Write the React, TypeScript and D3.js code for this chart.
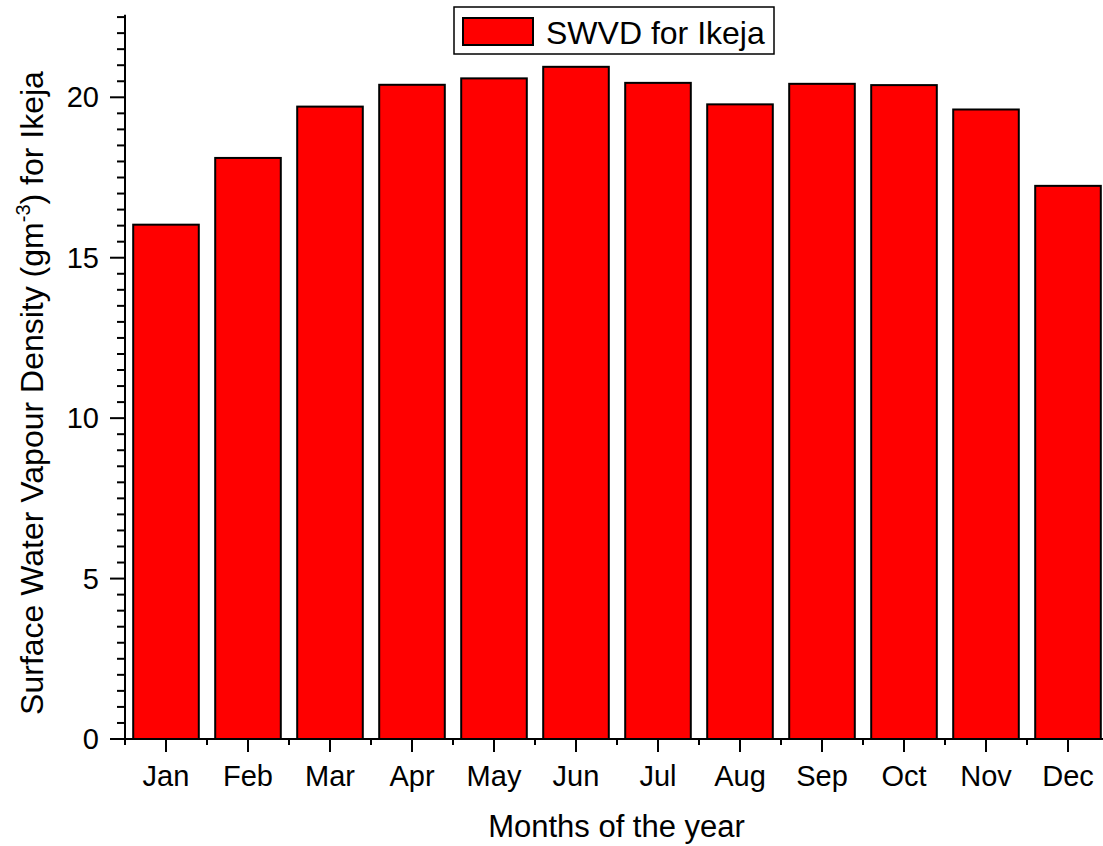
import React from "react";
import * as d3 from "d3";

const months = ["Jan", "Feb", "Mar", "Apr", "May", "Jun", "Jul", "Aug", "Sep", "Oct", "Nov", "Dec"];
const swvd = [16.03, 18.11, 19.71, 20.39, 20.59, 20.95, 20.45, 19.78, 20.42, 20.38, 19.62, 17.24];
const yMajorTicks = [0, 5, 10, 15, 20];
const legendLabel = "SWVD for Ikeja";

const W = 1103;
const H = 846;
const FONT = "'Liberation Sans', Arial, sans-serif";

export default function App() {
  const x0 = 125;
  const yBase = 739;
  const x = d3
    .scaleBand<string>()
    .domain(months)
    .range([x0, x0 + 12 * 82])
    .paddingInner(0.2)
    .paddingOuter(0.1);
  const y = d3.scaleLinear().domain([0, 20]).range([yBase, 97.3]);
  const yTop = 22.57;
  const minorY = d3.range(0, 22.51, 0.5).filter((v) => Math.abs(v % 5) > 1e-6);
  const step = x.step();
  const boundaries = d3.range(0, 13).map((i) => x0 + i * step);

  return (
    <svg width={W} height={H} style={{ position: "absolute", left: 0, top: 0, background: "#fff" }}>
      <rect x={0} y={0} width={W} height={H} fill="#fff" />
      {/* bars */}
      {months.map((m, i) => (
        <rect
          key={m}
          x={x(m)!}
          y={y(swvd[i])}
          width={x.bandwidth()}
          height={yBase - y(swvd[i])}
          fill="#ff0000"
          stroke="#000"
          strokeWidth={2}
        />
      ))}
      {/* y axis */}
      <line x1={x0} x2={x0} y1={y(yTop)} y2={yBase + 6} stroke="#000" strokeWidth={2} />
      {yMajorTicks.map((t) => (
        <g key={"ym" + t}>
          <line x1={x0 - 15} x2={x0} y1={y(t)} y2={y(t)} stroke="#000" strokeWidth={2} />
          <text
            x={99}
            y={y(t) + 10}
            textAnchor="end"
            fontFamily={FONT}
            fontSize={29}
            fill="#000"
          >
            {t}
          </text>
        </g>
      ))}
      {minorY.map((t) => (
        <line key={"yn" + t} x1={x0 - 8} x2={x0} y1={y(t)} y2={y(t)} stroke="#000" strokeWidth={2} />
      ))}
      {/* x axis */}
      <line x1={x0 - 1} x2={W} y1={yBase} y2={yBase} stroke="#000" strokeWidth={2} />
      {boundaries.map((b, i) => (
        <line key={"xb" + i} x1={b} x2={b} y1={yBase} y2={yBase + 6} stroke="#000" strokeWidth={2} />
      ))}
      {months.map((m) => {
        const cx = x(m)! + x.bandwidth() / 2;
        return (
          <g key={"xt" + m}>
            <line x1={cx} x2={cx} y1={yBase} y2={yBase + 13} stroke="#000" strokeWidth={2} />
            <text x={cx} y={786} textAnchor="middle" fontFamily={FONT} fontSize={29} fill="#000">
              {m}
            </text>
          </g>
        );
      })}
      {/* axis titles */}
      <text x={616.5} y={837} textAnchor="middle" fontFamily={FONT} fontSize={31} fill="#000">
        Months of the year
      </text>
      <text
        transform="translate(43,393) rotate(-90)"
        textAnchor="middle"
        fontFamily={FONT}
        fontSize={32}
        fill="#000"
      >
        <tspan>Surface Water Vapour Density (gm</tspan>
        <tspan fontSize={20} dy={-13}>-3</tspan>
        <tspan dy={13}>) for Ikeja</tspan>
      </text>
      {/* legend */}
      <rect x={454} y={7} width={320} height={47} fill="#fff" stroke="#000" strokeWidth={1.5} />
      <rect x={463} y={18} width={70} height={27} fill="#ff0000" stroke="#000" strokeWidth={2} />
      <text x={546} y={44} fontFamily={FONT} fontSize={32} fill="#000">
        {legendLabel}
      </text>
    </svg>
  );
}
